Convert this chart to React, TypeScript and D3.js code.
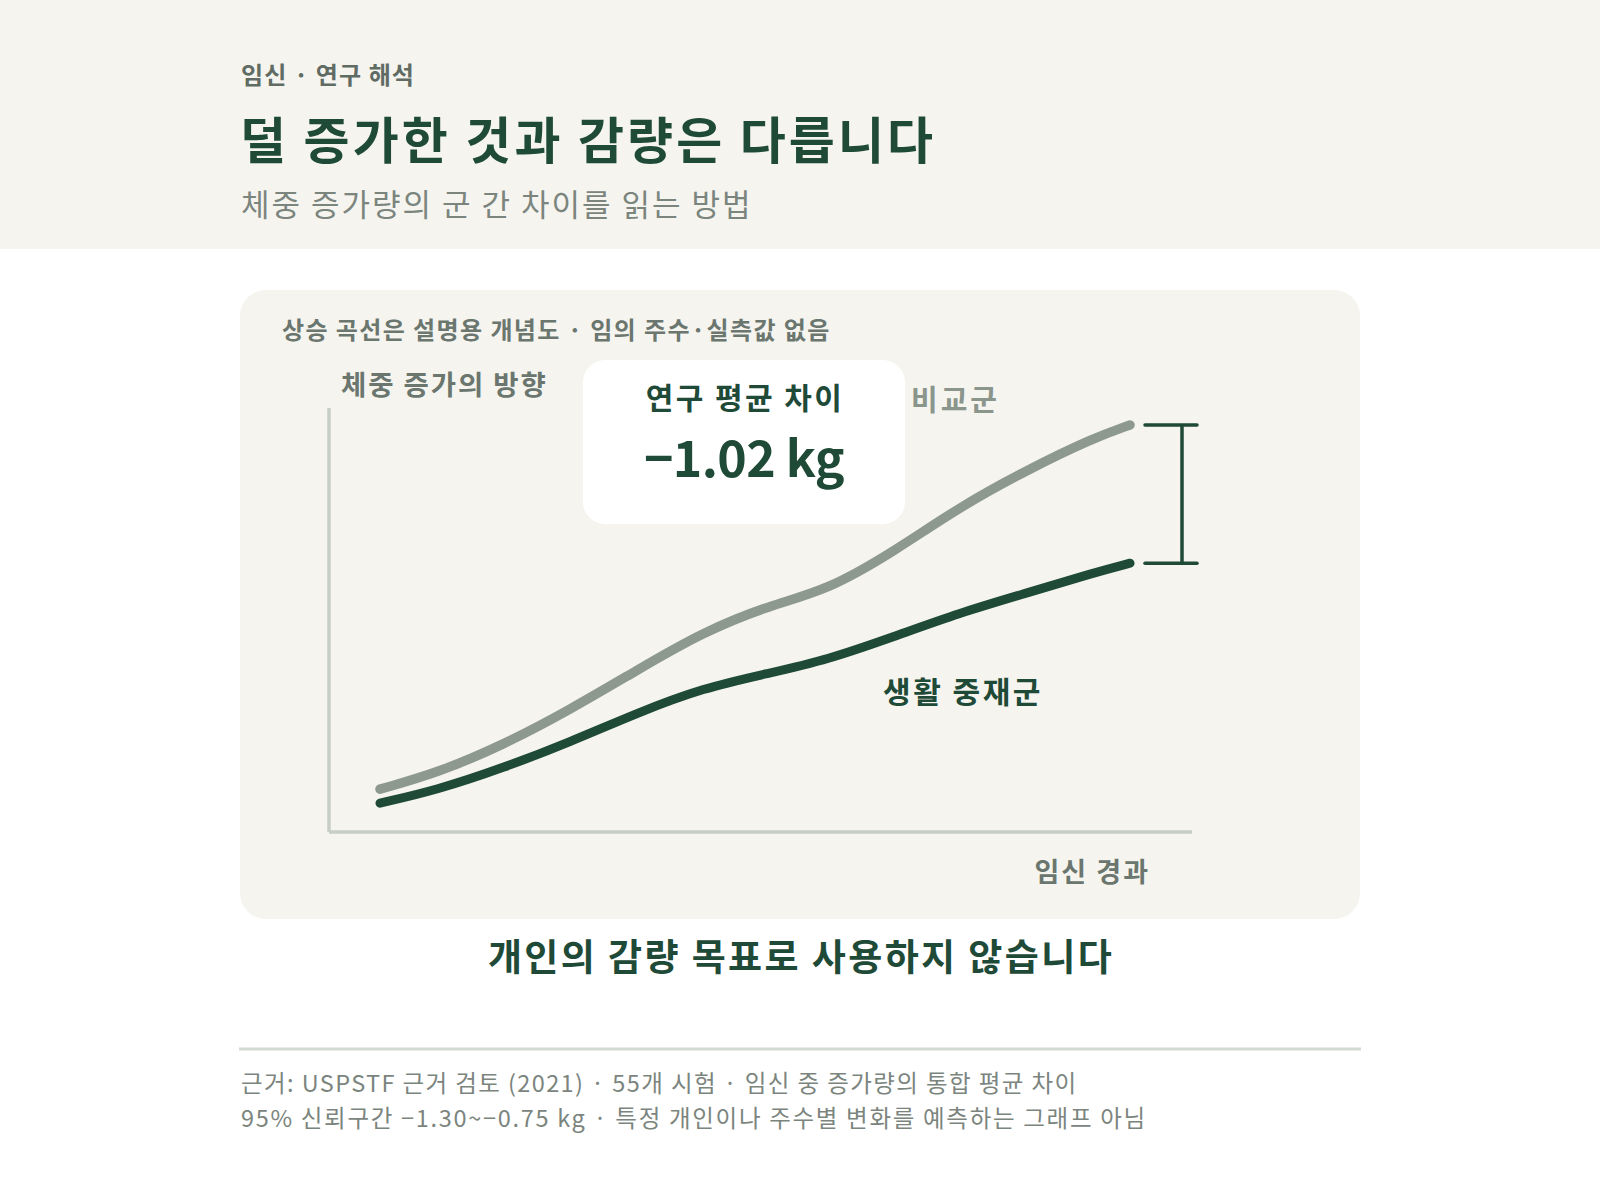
import React from "react";
import * as d3 from "d3";

// Conceptual progress (0–100, no real weeks) and conceptual gain (0–100)
const progress = [0, 7.6, 16.4, 25.3, 34.3, 43.1, 52, 59.6, 68.4, 77.3, 86.3, 95.1, 100];
const comparisonGain = [10.1, 13.9, 20.5, 28.8, 38.2, 47.2, 53.5, 57.0, 66.0, 76.7, 85.4, 92.9, 96.0];
const interventionGain = [6.8, 9.9, 15.1, 21.2, 28.1, 34.0, 37.5, 40.6, 46.0, 51.7, 56.4, 61.1, 63.4];

const eyebrow = "임신 · 연구 해석";
const title = "덜 증가한 것과 감량은 다릅니다";
const subtitle = "체중 증가량의 군 간 차이를 읽는 방법";
const panelNote = "상승 곡선은 설명용 개념도 · 임의 주수·실측값 없음";
const yAxisLabel = "체중 증가의 방향";
const xAxisLabel = "임신 경과";
const boxLabel = "연구 평균 차이";
const boxValue = "−1.02 kg";
const comparisonLabel = "비교군";
const interventionLabel = "생활 중재군";
const bottomMessage = "개인의 감량 목표로 사용하지 않습니다";
const footnotes = [
  "근거: USPSTF 근거 검토 (2021) · 55개 시험 · 임신 중 증가량의 통합 평균 차이",
  "95% 신뢰구간 −1.30~−0.75 kg · 특정 개인이나 주수별 변화를 예측하는 그래프 아님",
];

const FONT = "'Noto Sans CJK KR', 'Noto Sans', sans-serif";
const DARK = "#1e4a37";
const GRAYLINE = "#8d998f";
const MUTED = "#6a766e";
const SOFT = "#7b857e";
const BG = "#f5f4ef";

export default function App() {
  const W = 1600;
  const H = 1200;
  const x = d3.scaleLinear().domain([0, 100]).range([380, 1130]);
  const y = d3.scaleLinear().domain([0, 100]).range([832, 408]);

  const line = d3
    .line<number>()
    .x((_, i) => x(progress[i]))
    .y((d) => y(d))
    .curve(d3.curveBasis);

  const lastX = x(progress[progress.length - 1]);
  const bracketX = lastX + 52;
  const yTop = y(comparisonGain[comparisonGain.length - 1]);
  const yBot = y(interventionGain[interventionGain.length - 1]);

  return (
    <svg
      width={W}
      height={H}
      viewBox={`0 0 ${W} ${H}`}
      style={{ position: "absolute", left: 0, top: 0, display: "block" }}
      fontFamily={FONT}
    >
      <rect x={0} y={0} width={W} height={H} fill="#ffffff" />
      <rect x={0} y={0} width={W} height={249} fill={BG} />

      <text x={241} y={84} fontSize={24} fontWeight={700} fill="#5f6b63" letterSpacing={1.1}>
        {eyebrow}
      </text>
      <text x={240} y={159} fontSize={50} fontWeight={700} fill={DARK} letterSpacing={3.1}>
        {title}
      </text>
      <text x={241} y={216} fontSize={31} fontWeight={400} fill={SOFT} letterSpacing={2}>
        {subtitle}
      </text>

      {/* panel */}
      <rect x={240} y={290} width={1120} height={629} rx={26} fill={BG} />
      <text x={282} y={339} fontSize={24} fontWeight={700} fill={MUTED} letterSpacing={1.4}>
        {panelNote}
      </text>
      <text x={341} y={395} fontSize={27.5} fontWeight={700} fill={MUTED} letterSpacing={1.9}>
        {yAxisLabel}
      </text>

      {/* axes */}
      <line x1={329} x2={329} y1={y(100)} y2={y(0)} stroke="#c6cec7" strokeWidth={3.5} />
      <line x1={329} x2={1192} y1={y(0)} y2={y(0)} stroke="#c6cec7" strokeWidth={3.5} />
      <text x={1150} y={882} fontSize={27} fontWeight={700} fill={MUTED} textAnchor="end" letterSpacing={2}>
        {xAxisLabel}
      </text>

      {/* curves */}
      <path d={line(comparisonGain) || ""} fill="none" stroke={GRAYLINE} strokeWidth={9.5} strokeLinecap="round" />
      <path d={line(interventionGain) || ""} fill="none" stroke={DARK} strokeWidth={9} strokeLinecap="round" />

      {/* bracket */}
      <line x1={bracketX} x2={bracketX} y1={yTop} y2={yBot} stroke={DARK} strokeWidth={3.5} />
      <line x1={bracketX - 37} x2={bracketX + 15} y1={yTop} y2={yTop} stroke={DARK} strokeWidth={3.5} strokeLinecap="round" />
      <line x1={bracketX - 37} x2={bracketX + 15} y1={yBot} y2={yBot} stroke={DARK} strokeWidth={3.5} strokeLinecap="round" />

      {/* value box */}
      <rect x={583} y={360} width={322} height={164} rx={22} fill="#ffffff" />
      <text x={745} y={409} fontSize={30} fontWeight={700} fill={DARK} textAnchor="middle" letterSpacing={2.4}>
        {boxLabel}
      </text>
      <text x={744} y={477} fontSize={50} fontWeight={700} fill={DARK} textAnchor="middle" letterSpacing={-0.6}>
        {boxValue}
      </text>

      <text x={911} y={411} fontSize={29} fontWeight={700} fill="#8a958c" letterSpacing={3}>
        {comparisonLabel}
      </text>
      <text x={963} y={703} fontSize={30} fontWeight={700} fill={DARK} textAnchor="middle" letterSpacing={2.5}>
        {interventionLabel}
      </text>

      <text x={801} y={971} fontSize={37} fontWeight={700} fill={DARK} textAnchor="middle" letterSpacing={2.4}>
        {bottomMessage}
      </text>

      <line x1={239} x2={1361} y1={1049} y2={1049} stroke="#d3dad4" strokeWidth={3} />
      {footnotes.map((t, i) => (
        <text key={i} x={241} y={1092 + i * 35} fontSize={23.5} fontWeight={400} fill={SOFT} letterSpacing={i === 0 ? 1.4 : 1.7}>
          {t}
        </text>
      ))}
    </svg>
  );
}
